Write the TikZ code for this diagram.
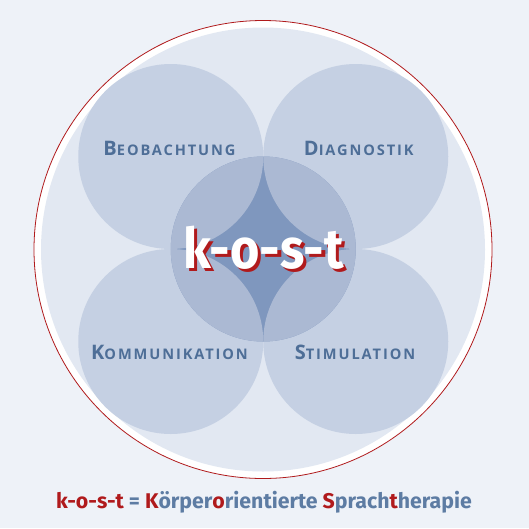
\documentclass[tikz,border=0pt]{standalone}
\usepackage{fontspec}
\setmainfont{Fira Sans}
\newfontfamily\labfont[LetterSpace=13]{Open Sans}
\definecolor{bgc}{HTML}{EEF2F8}
\definecolor{bigc}{HTML}{E2E8F2}
\definecolor{petal}{HTML}{C5D0E3}
\definecolor{overl}{HTML}{ABB9D3}
\definecolor{starc}{HTML}{7F97BE}
\definecolor{labc}{HTML}{4E6E97}
\definecolor{capc}{HTML}{5D7CA3}
\definecolor{redc}{HTML}{B01A1C}
\newcommand{\fakesc}[2]{{\fontsize{20}{20}\selectfont #1}{\fontsize{14.6}{14.6}\selectfont #2}}
\tikzset{
  petalnode/.style={circle, fill=petal, minimum size=185pt, inner sep=0pt},
  labnode/.style={anchor=base, inner sep=0pt, text=labc, font=\labfont\bfseries},
  titlenode/.style={anchor=base, inner sep=0pt, font=\bfseries\fontsize{56}{56}\selectfont},
}
\begin{document}
\begin{tikzpicture}[x=1pt, y=-1pt]
\useasboundingbox (0,0) rectangle (529,528);
\fill[bgc] (0,0) rectangle (529,528);
% outer circle
\node[circle, draw=redc, line width=0.8pt, fill=white, minimum size=458pt, inner sep=0pt] (outer) at (263,249.5) {};
\node[circle, fill=bigc, minimum size=444pt, inner sep=0pt] (inner) at (263,249.5) {};
% petals
\coordinate (m) at (263.25,249);
\node[petalnode] (p1) at (170.75,156.5) {};
\node[petalnode] (p2) at (355.75,156.5) {};
\node[petalnode] (p3) at (170.75,341.5) {};
\node[petalnode] (p4) at (355.75,341.5) {};
% centre circle
\node[circle, fill=starc, minimum size=185pt, inner sep=0pt] (mid) at (m) {};
\begin{scope}
  \clip (m) circle (92.5);
  \fill[overl] (p1.center) circle (92.5);
  \fill[overl] (p2.center) circle (92.5);
  \fill[overl] (p3.center) circle (92.5);
  \fill[overl] (p4.center) circle (92.5);
\end{scope}
% labels
\node[labnode] (lb) at (169.5,155) {\fakesc{B}{EOBACHTUNG}};
\node[labnode] (ld) at (358.8,155) {\fakesc{D}{IAGNOSTIK}};
\node[labnode] (lk) at (169.5,359) {\fakesc{K}{OMMUNIKATION}};
\node[labnode] (ls) at (355,359) {\fakesc{S}{TIMULATION}};
% big title
\node[titlenode, text=redc] (kshadow) at (267,271) {\scalebox{0.9}[1]{k-o-s-t}};
\node[titlenode, text=white] (kost) at (263.5,268) {\scalebox{0.9}[1]{k-o-s-t}};
% caption
\node[anchor=base, inner sep=0pt, text=capc, font=\bfseries\fontsize{21.3}{21.3}\selectfont] (cap) at (264,508)
  {\textcolor{redc}{k-o-s-t} = \textcolor{redc}{K}örper\textcolor{redc}{o}rientierte \textcolor{redc}{S}prach\textcolor{redc}{t}herapie};
\end{tikzpicture}
\end{document}
